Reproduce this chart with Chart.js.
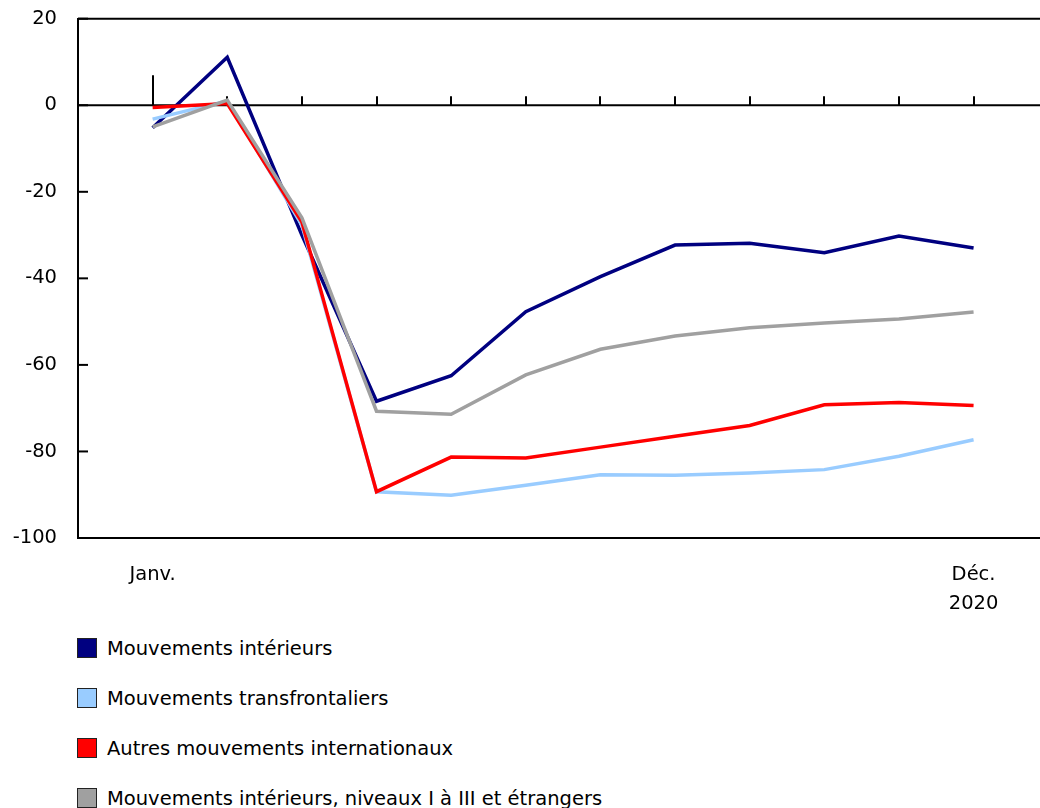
<!DOCTYPE html>
<html>
<head>
<meta charset="utf-8">
<script src="https://cdn.jsdelivr.net/npm/chart.js@4.4.1/dist/chart.umd.min.js"></script>
<style>
html,body{margin:0;padding:0;background:#fff;}
#wrap{position:relative;width:1040px;height:808px;overflow:hidden;}
#c{position:absolute;left:0;top:-14px;}
#legend{position:absolute;left:77px;top:637px;font-family:"DejaVu Sans",Verdana,sans-serif;font-size:19.5px;color:#000;}
.item{display:flex;align-items:center;height:22px;margin-bottom:28px;white-space:nowrap;}
.box{width:20px;height:20px;border:1px solid #222;box-sizing:border-box;margin-right:10px;flex:none;}
</style>
</head>
<body>
<div id="wrap">
<canvas id="c" width="1040" height="634"></canvas>
<div id="legend"></div>
</div>
<script>
// Categories (months of 2020)
const months = ['Janv.','Févr.','Mars','Avr.','Mai','Juin','Juil.','Août','Sept.','Oct.','Nov.','Déc.'];
const tickLabels = ['Janv.','','','','','','','','','','',['Déc.','2020']];
const yTicks = [20, 0, -20, -40, -60, -80, -100];

// Series values
const interieurs       = [-5.2, 11.1, -30.0, -68.4, -62.5, -47.7, -39.6, -32.3, -31.9, -34.1, -30.2, -33.0];
const transfrontaliers = [-3.2,  1.0, -27.7, -89.3, -90.1, -87.8, -85.4, -85.5, -85.0, -84.2, -81.1, -77.3];
const autres           = [-0.5,  0.4, -27.0, -89.3, -81.3, -81.5, -79.0, -76.5, -74.0, -69.2, -68.7, -69.4];
const niveaux          = [-5.0,  1.2, -26.0, -70.7, -71.4, -62.3, -56.4, -53.3, -51.4, -50.3, -49.4, -47.8];

const seriesNames = ['Mouvements intérieurs','Mouvements transfrontaliers','Autres mouvements internationaux','Mouvements intérieurs, niveaux I à III et étrangers'];
const seriesColors = ['#000080','#99CCFF','#FF0000','#A0A0A0'];
const seriesData = [interieurs, transfrontaliers, autres, niveaux];

const FONT = '"DejaVu Sans", Verdana, sans-serif';

const datasets = seriesData.map((arr, i) => ({
  label: seriesNames[i],
  data: arr.map((v, k) => ({x: k, y: v})),
  borderColor: seriesColors[i],
  backgroundColor: seriesColors[i],
  borderWidth: 3.5,
  pointRadius: 0,
  tension: 0,
  fill: false,
  order: seriesData.length - i
}));

const axesPlugin = {
  id: 'axesPlugin',
  beforeDatasetsDraw(chart) {
    const {ctx, chartArea, scales} = chart;
    const x = scales.x, y = scales.y;
    ctx.save();
    ctx.strokeStyle = '#000';
    ctx.lineWidth = 2;
    ctx.beginPath();
    ctx.moveTo(chartArea.left, chartArea.top);
    ctx.lineTo(chartArea.right, chartArea.top);
    ctx.stroke();
    const y0 = y.getPixelForValue(0);
    ctx.beginPath();
    ctx.moveTo(chartArea.left, y0);
    ctx.lineTo(chartArea.right, y0);
    ctx.stroke();
    months.forEach((m, i) => {
      const px = Math.round(x.getPixelForValue(i));
      const len = i === 0 ? 30 : 9;
      ctx.beginPath();
      ctx.moveTo(px, y0);
      ctx.lineTo(px, y0 - len);
      ctx.stroke();
    });
    yTicks.forEach(v => {
      const py = y.getPixelForValue(v);
      ctx.beginPath();
      ctx.moveTo(chartArea.left, py);
      ctx.lineTo(chartArea.left + 10, py);
      ctx.stroke();
    });
    ctx.restore();
  }
};

new Chart(document.getElementById('c'), {
  type: 'line',
  data: { datasets },
  options: {
    responsive: false,
    animation: false,
    devicePixelRatio: 1,
    layout: { padding: { left: 13, right: 0, top: 6, bottom: 4 } },
    plugins: { legend: { display: false }, tooltip: { enabled: false } },
    scales: {
      x: {
        type: 'linear',
        min: -1,
        max: 11.89,
        afterBuildTicks: (s) => { s.ticks = months.map((m, i) => ({value: i})); },
        afterFit: (s) => { s.height = 78; },
        grid: { display: false, drawTicks: false },
        border: { display: true, color: '#000', width: 2 },
        ticks: {
          autoSkip: false, maxRotation: 0, padding: 22,
          color: '#000',
          font: { family: FONT, size: 19.5, lineHeight: 1.5 },
          callback: (v) => tickLabels[v]
        }
      },
      y: {
        min: -100, max: 20,
        afterBuildTicks: (s) => { s.ticks = yTicks.map(v => ({value: v})); },
        afterFit: (s) => { s.width = 65; },
        grid: { display: false, drawTicks: false },
        border: { display: true, color: '#000', width: 2 },
        ticks: {
          padding: 21, color: '#000',
          font: { family: FONT, size: 19.5 }
        }
      }
    }
  },
  plugins: [axesPlugin]
});

const lg = document.getElementById('legend');
seriesNames.forEach((n, i) => {
  const it = document.createElement('div');
  it.className = 'item';
  const b = document.createElement('span');
  b.className = 'box';
  b.style.background = seriesColors[i];
  const t = document.createElement('span');
  t.textContent = n;
  it.appendChild(b); it.appendChild(t);
  lg.appendChild(it);
});
</script>
</body>
</html>
